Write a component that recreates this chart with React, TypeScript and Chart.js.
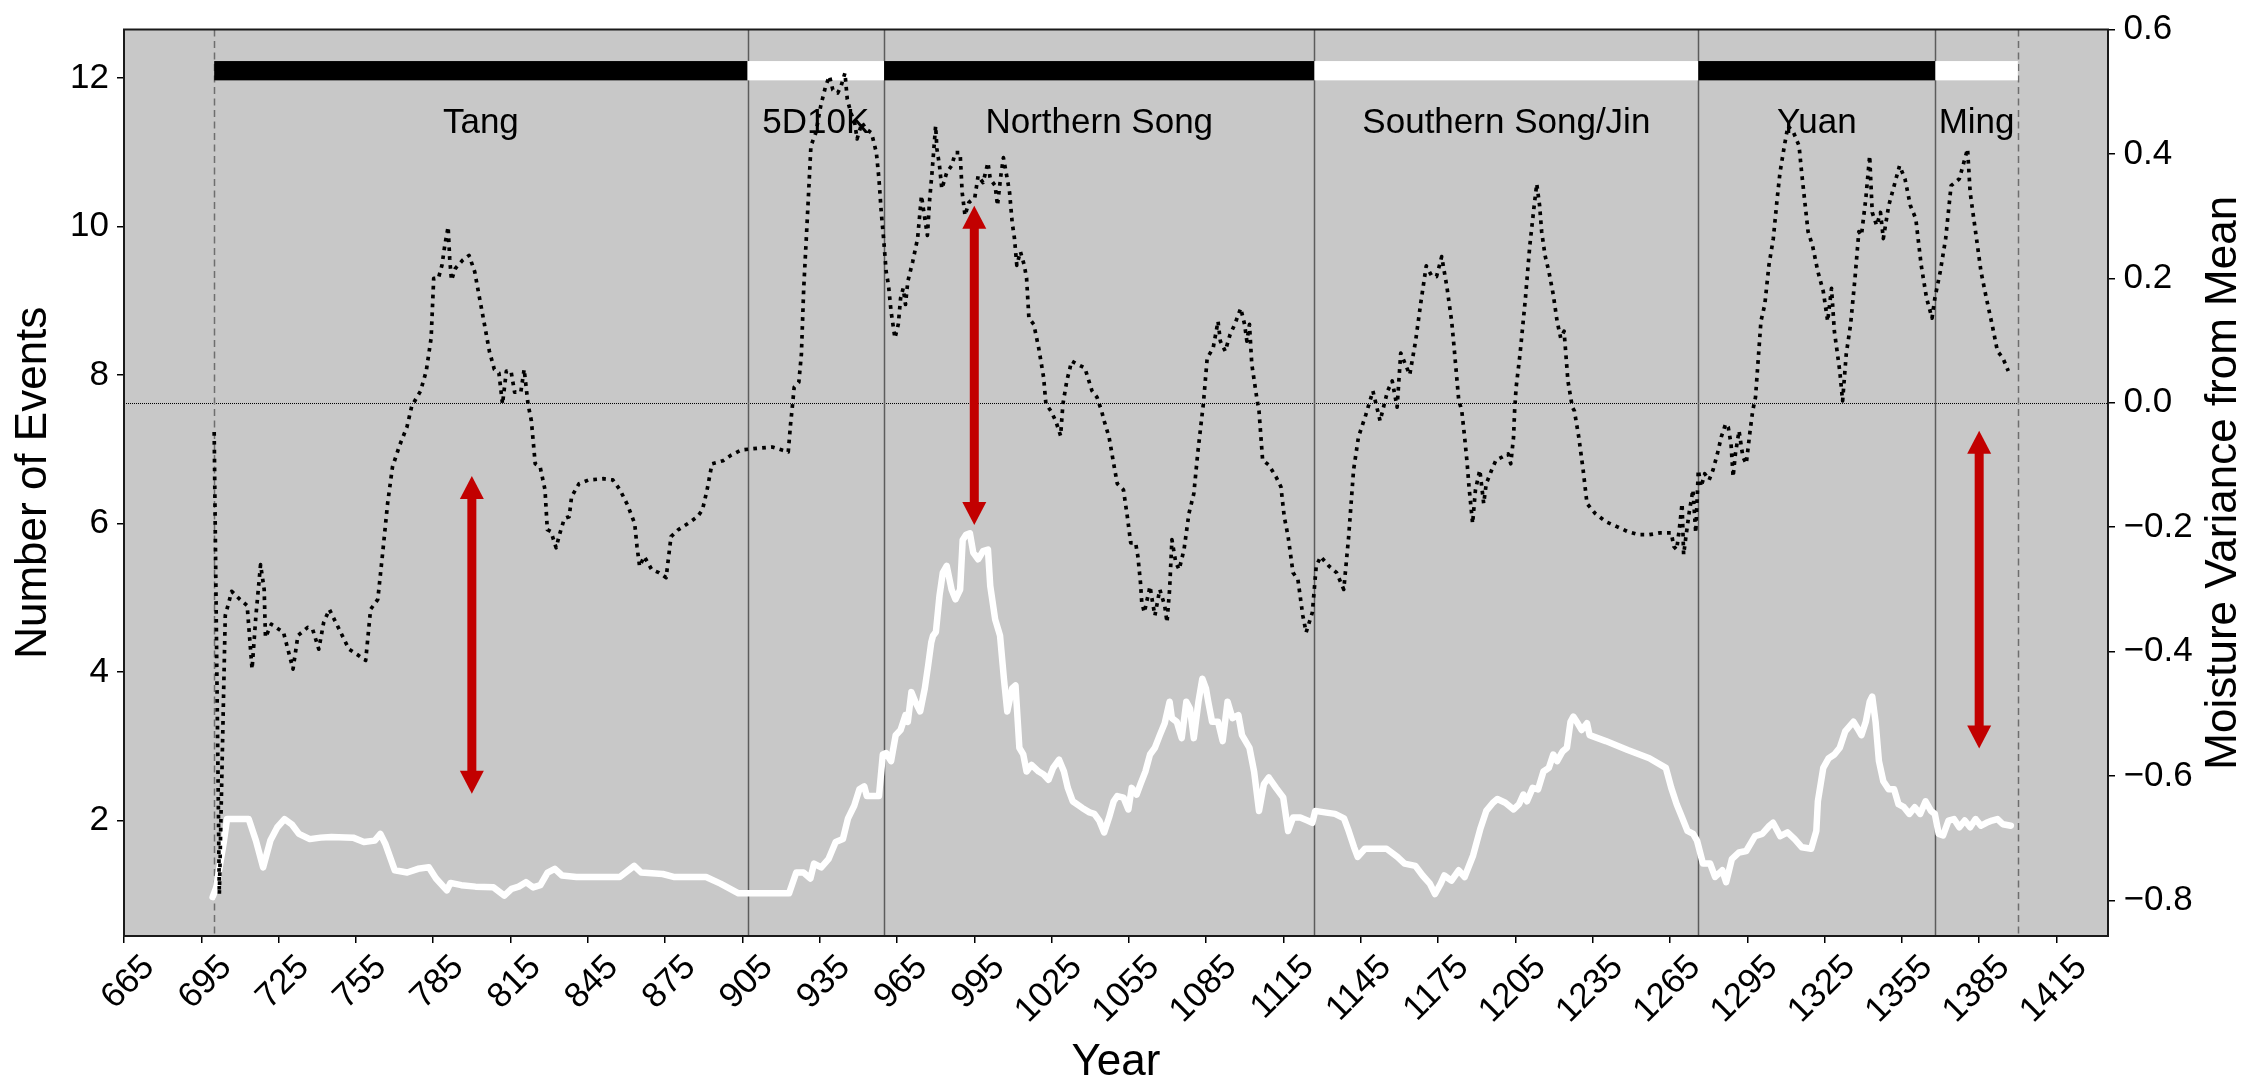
import React, { useEffect, useRef } from 'react';
import { Chart, registerables } from 'chart.js';

Chart.register(...registerables);

// ---------------- data ----------------
const MOIST_YEARS = [
  700, 702, 704.3, 706.8, 710, 712.8, 714.7, 716.2, 718, 719.4, 719.9, 722.2, 726.9, 730.6, 732.5, 736.3, 738.2, 740.6,
  742.5, 744.7, 748.5, 752.3, 756, 758.8, 760.7, 763.5, 765.4, 767.3, 769.2, 772, 774.8, 776.7, 780.1, 782.3, 784.2,
  785.2, 787, 788.4, 789.5, 790.8, 791.4, 792.1, 793.6, 796.4, 798.9, 801.1, 803, 804.9, 806.8, 808.7, 810.5, 811.9,
  813.4, 815.2, 816.6, 819, 820.3, 821.8, 823.1, 824.6, 826.5, 828.4, 829.3, 830.7, 832.7, 834, 835.9, 837.8, 838.7,
  841.6, 845.3, 851, 854.7, 857.5, 860.4, 863.2, 864.1, 865.1, 866.9, 869.8, 872.6, 875.4, 877.3, 880.1, 883.9, 887.6,
  889.5, 891.3, 893.2, 897.5, 900.7, 904.5, 908.7, 916.6, 920.4, 922.8, 923.7, 924.3, 925.1, 926.9, 927.9, 928.8,
  929.8, 930.7, 931.6, 933.5, 935.4, 937.3, 938.8, 940.1, 942, 943.3, 944.8, 945.7, 947.1, 948.6, 949.5, 951.4, 953.3,
  955.1, 957, 958, 958.9, 959.8, 960.8, 961.7, 962.7, 964.2, 965.5, 966.4, 967.4, 968.3, 969.2, 971.1, 973, 974.5,
  975.8, 976.8, 977.7, 978.6, 980, 980.5, 981.5, 982.4, 984.3, 986.2, 987.7, 989.5, 990.3, 991.4, 992.9, 995.2, 996.5,
  998.4, 1000.3, 1001.2, 1003.1, 1004, 1005.3, 1006.3, 1007.8, 1008.7, 1009.7, 1010.6, 1011.5, 1012.9, 1014.4, 1015.3,
  1016.2, 1018.1, 1020, 1021.9, 1022.8, 1024.7, 1026.6, 1028.5, 1029.4, 1030.9, 1032.8, 1035, 1037.9, 1040.7, 1042.6,
  1044.4, 1045.4, 1047.3, 1049.1, 1050.5, 1052.9, 1054.4, 1055.7, 1057.6, 1058.5, 1059.5, 1060, 1061, 1063.2, 1064.2,
  1065.1, 1067, 1068.9, 1069.8, 1070.8, 1071.7, 1073.2, 1074.5, 1076.4, 1078.3, 1080.2, 1081.7, 1083, 1083.9, 1085.4,
  1087.7, 1089.6, 1090.5, 1092.4, 1094.3, 1096.1, 1098.4, 1099.9, 1100.8, 1101.8, 1102.7, 1104.6, 1105.5, 1106.9,
  1109.3, 1112.1, 1114, 1115.3, 1116.8, 1118.7, 1120.6, 1122.5, 1123.8, 1126.2, 1127.7, 1129.4, 1132.8, 1135.6, 1138.4,
  1140.3, 1142.2, 1144.1, 1146.9, 1149.7, 1152.5, 1155.4, 1157.2, 1159.1, 1160.5, 1164, 1166.3, 1168.2, 1170.4, 1172.4,
  1174.4, 1176.4, 1178.4, 1180.3, 1181.2, 1183, 1184.2, 1185.3, 1186.3, 1187, 1188.4, 1189.5, 1191.2, 1192.7, 1193.7,
  1195.8, 1197.5, 1200, 1202.2, 1203.2, 1204.3, 1204.7, 1205.3, 1206.8, 1208.9, 1210.6, 1212.3, 1213.3, 1214.4, 1215.2,
  1216.5, 1218, 1219.7, 1221.2, 1222.6, 1223.9, 1225.4, 1227.1, 1227.9, 1229.6, 1231.3, 1232.8, 1236, 1240.1, 1244.4,
  1248.6, 1252.8, 1257, 1261.2, 1265.5, 1266.5, 1267.6, 1268.6, 1269.7, 1270.3, 1271.2, 1272.4, 1273.9, 1275, 1276,
  1277.1, 1278.5, 1280.2, 1281.7, 1283.4, 1284.9, 1286.6, 1287.6, 1288.7, 1289.5, 1290.4, 1291.8, 1293.3, 1294.6,
  1296.1, 1297.1, 1298.2, 1300.3, 1301.8, 1303.4, 1305.1, 1306.6, 1307.7, 1309.4, 1310.8, 1313, 1315.1, 1316.1, 1317.2,
  1318.6, 1320.3, 1322.4, 1324.5, 1326.2, 1327.7, 1328.8, 1330.9, 1332, 1333.4, 1335.1, 1336.8, 1338.3, 1339.3, 1341,
  1342.5, 1343.5, 1345.2, 1346.7, 1347.8, 1349.9, 1352, 1354.1, 1356.2, 1358.3, 1360.4, 1362.5, 1364.6, 1366.7, 1367.8,
  1369.9, 1372, 1374.1, 1377.3, 1380.5, 1381.5, 1383.6, 1385.7, 1387.8, 1390, 1392.1, 1394.2, 1396.3,
];
const MOIST_VALUES = [
  -0.047, -0.79, -0.342, -0.303, -0.316, -0.326, -0.428, -0.342, -0.26, -0.3, -0.377, -0.356, -0.369, -0.428, -0.374,
  -0.361, -0.364, -0.396, -0.353, -0.332, -0.364, -0.396, -0.406, -0.414, -0.332, -0.316, -0.241, -0.162, -0.103,
  -0.068, -0.039, -0.005, 0.019, 0.051, 0.104, 0.2, 0.2, 0.221, 0.253, 0.283, 0.232, 0.197, 0.216, 0.229, 0.237, 0.211,
  0.168, 0.126, 0.083, 0.054, 0.048, -0.002, 0.051, 0.051, 0.017, 0.017, 0.054, -0.002, -0.029, -0.098, -0.103, -0.14,
  -0.204, -0.207, -0.233, -0.212, -0.186, -0.183, -0.151, -0.13, -0.124, -0.122, -0.124, -0.14, -0.164, -0.194, -0.231,
  -0.263, -0.247, -0.268, -0.273, -0.281, -0.215, -0.204, -0.194, -0.183, -0.172, -0.14, -0.098, -0.093, -0.084, -0.076,
  -0.074, -0.071, -0.076, -0.079, -0.034, -0.01, 0.025, 0.033, 0.078, 0.184, 0.264, 0.338, 0.413, 0.434, 0.477, 0.509,
  0.525, 0.503, 0.498, 0.509, 0.53, 0.488, 0.466, 0.45, 0.424, 0.45, 0.439, 0.434, 0.402, 0.36, 0.306, 0.264, 0.211,
  0.189, 0.147, 0.104, 0.126, 0.168, 0.184, 0.158, 0.195, 0.227, 0.264, 0.333, 0.296, 0.269, 0.328, 0.37, 0.445, 0.408,
  0.381, 0.344, 0.37, 0.381, 0.402, 0.402, 0.338, 0.301, 0.322, 0.33, 0.365, 0.354, 0.386, 0.36, 0.349, 0.317, 0.365,
  0.394, 0.36, 0.338, 0.29, 0.264, 0.221, 0.243, 0.221, 0.2, 0.136, 0.126, 0.088, 0.041, -0.002, -0.013, -0.029, -0.053,
  -0.002, 0.035, 0.067, 0.062, 0.056, 0.019, 0.009, -0.013, -0.029, -0.055, -0.098, -0.13, -0.14, -0.183, -0.225,
  -0.225, -0.247, -0.289, -0.321, -0.337, -0.295, -0.321, -0.342, -0.3, -0.326, -0.353, -0.3, -0.22, -0.257, -0.268,
  -0.236, -0.178, -0.146, -0.082, -0.034, -0.002, 0.072, 0.088, 0.131, 0.099, 0.083, 0.11, 0.126, 0.152, 0.126, 0.099,
  0.126, 0.062, 0.009, -0.013, -0.092, -0.1, -0.119, -0.135, -0.183, -0.215, -0.273, -0.284, -0.342, -0.369, -0.337,
  -0.263, -0.247, -0.263, -0.273, -0.3, -0.215, -0.108, -0.055, -0.02, 0.019, -0.029, 0.019, 0.035, -0.007, 0.08, 0.045,
  0.1, 0.158, 0.22, 0.205, 0.203, 0.235, 0.187, 0.13, 0.09, 0.005, -0.013, -0.055, -0.098, -0.135, -0.194, -0.14,
  -0.108, -0.162, -0.13, -0.108, -0.092, -0.087, -0.082, -0.098, -0.055, -0.013, 0.025, 0.078, 0.168, 0.253, 0.317,
  0.352, 0.317, 0.275, 0.237, 0.211, 0.174, 0.131, 0.104, 0.115, 0.035, -0.007, -0.013, -0.055, -0.108, -0.162, -0.178,
  -0.191, -0.199, -0.207, -0.212, -0.212, -0.209, -0.209, -0.231, -0.236, -0.204, -0.162, -0.244, -0.215, -0.178,
  -0.14, -0.209, -0.108, -0.135, -0.114, -0.124, -0.108, -0.082, -0.055, -0.034, -0.039, -0.066, -0.119, -0.082, -0.045,
  -0.087, -0.098, -0.045, -0.013, 0.009, 0.131, 0.158, 0.221, 0.264, 0.328, 0.37, 0.413, 0.445, 0.434, 0.413, 0.37,
  0.328, 0.275, 0.253, 0.211, 0.179, 0.131, 0.184, 0.115, 0.051, 0.003, 0.078, 0.126, 0.2, 0.275, 0.269, 0.328, 0.397,
  0.306, 0.285, 0.306, 0.264, 0.317, 0.349, 0.381, 0.36, 0.317, 0.296, 0.221, 0.168, 0.136, 0.168, 0.211, 0.264, 0.349,
  0.36, 0.408, 0.338, 0.275, 0.211, 0.168, 0.126, 0.083, 0.072, 0.051,
];

const EVENT_YEARS = [
  699.4, 700.8, 703.6, 705, 713.4, 716.2, 719, 721.8, 724.5, 727.3, 730.1, 732.9, 737.1, 741.3, 745.5, 753.9, 758.1,
  762.3, 764.5, 766.5, 770.1, 774.9, 779.1, 783.3, 786.1, 790.3, 791.7, 795.9, 801.4, 808.4, 812.6, 815.4, 818.2, 821,
  823.8, 826.6, 829.4, 832.2, 835, 840.6, 857.4, 863, 865.7, 874.1, 878.3, 890.9, 896.5, 903.5, 923.1, 925.9, 928.7,
  931.4, 932.8, 935.6, 938.4, 941.2, 944, 946, 948.4, 950.4, 952.3, 953.3, 958, 959.5, 960.8, 962.7, 964.5, 966.4,
  968.3, 969.2, 970.6, 972.1, 974, 975.8, 977.1, 978.3, 979, 980.1, 981.5, 982.8, 984.3, 986.2, 987.7, 989.5, 990.5,
  991.8, 993.3, 994.6, 996.5, 998.4, 1000.3, 1001.2, 1003.1, 1005, 1006.5, 1007.8, 1009.7, 1011, 1012.5, 1014, 1015.3,
  1017.2, 1020, 1021.9, 1023.8, 1025.6, 1027.9, 1029.8, 1031.3, 1033.2, 1036.9, 1039.7, 1041.6, 1043.5, 1045.4, 1047.3,
  1049.1, 1050.5, 1052.9, 1054.8, 1056.1, 1058, 1059.5, 1061.4, 1063.2, 1065.1, 1067, 1068.9, 1070.8, 1071.7, 1073.6,
  1075.5, 1077.3, 1078.7, 1080.2, 1082, 1083.5, 1084.9, 1085.8, 1087.3, 1089.6, 1091.4, 1093.3, 1095.2, 1097.5, 1098.9,
  1101.8, 1103.6, 1105.5, 1107.4, 1109.3, 1112.1, 1114.9, 1116.8, 1118.7, 1121.5, 1124.3, 1126.2, 1127.3, 1131, 1135,
  1138.5, 1140.3, 1142.4, 1143.8, 1146.6, 1155, 1159.2, 1162, 1166.2, 1169, 1171.8, 1173.8, 1176, 1177.4, 1180.2, 1183,
  1185.3, 1188.6, 1191.5, 1193.7, 1196.3, 1198, 1201.1, 1204.3, 1206.4, 1208.1, 1209.5, 1211.7, 1213.8, 1215.9, 1218,
  1219.7, 1221.2, 1223.3, 1225, 1226.4, 1227.5, 1229.2, 1230.7, 1232.8, 1233.8, 1240.1, 1248.6, 1257, 1263.4, 1265.5,
  1267.6, 1269.7, 1271.8, 1274, 1275.5, 1277.8, 1280.6, 1282.5, 1285.3, 1286.8, 1289, 1291.8, 1294.6, 1298, 1300.8,
  1303.6, 1305, 1307.8, 1310.6, 1313.4, 1316.2, 1319.8, 1321.8, 1322.4, 1324.5, 1326.6, 1328.8, 1330.9, 1333, 1334.7,
  1336.2, 1337.8, 1339.3, 1341, 1342.5, 1343.5, 1344.8, 1346.1, 1347.8, 1349.9, 1352, 1353.7, 1355.8, 1357.9, 1360,
  1362.1, 1364.2, 1366.3, 1367.8, 1369.3, 1371, 1373.1, 1375.2, 1377.3, 1379.4, 1381.5, 1383.6, 1385.7, 1387.8, 1390,
  1392.1, 1394.2, 1397.3,
];
const EVENT_VALUES = [
  0.97, 1.1, 1.68, 2.02, 2.02, 1.73, 1.37, 1.73, 1.91, 2.02, 1.95, 1.82, 1.75, 1.77, 1.78, 1.77, 1.71, 1.73, 1.82, 1.68,
  1.33, 1.3, 1.35, 1.37, 1.22, 1.06, 1.16, 1.13, 1.11, 1.1, 0.99, 1.08, 1.11, 1.17, 1.1, 1.13, 1.3, 1.35, 1.26, 1.24,
  1.24, 1.39, 1.3, 1.28, 1.24, 1.24, 1.15, 1.02, 1.02, 1.3, 1.3, 1.22, 1.42, 1.37, 1.48, 1.71, 1.75, 2.03, 2.2, 2.42,
  2.46, 2.33, 2.33, 2.89, 2.91, 2.8, 3.15, 3.22, 3.42, 3.33, 3.73, 3.6, 3.47, 3.78, 4.09, 4.4, 4.49, 4.54, 5.03, 5.34,
  5.43, 5.11, 4.98, 5.11, 5.78, 5.85, 5.87, 5.61, 5.52, 5.63, 5.65, 5.16, 4.71, 4.49, 3.91, 3.47, 3.78, 3.82, 2.98, 2.89,
  2.66, 2.75, 2.66, 2.62, 2.55, 2.71, 2.82, 2.66, 2.44, 2.26, 2.17, 2.11, 2.09, 2.0, 1.84, 2.04, 2.26, 2.33, 2.31, 2.15,
  2.44, 2.35, 2.49, 2.66, 2.89, 2.98, 3.15, 3.31, 3.6, 3.38, 3.33, 3.11, 3.6, 3.51, 3.11, 3.6, 3.91, 3.78, 3.6, 3.33,
  3.33, 3.07, 3.6, 3.38, 3.42, 3.15, 2.98, 2.66, 2.13, 2.49, 2.58, 2.44, 2.31, 1.86, 2.04, 2.04, 2.0, 1.97, 2.13, 2.11,
  2.09, 2.03, 1.86, 1.64, 1.51, 1.62, 1.62, 1.51, 1.42, 1.39, 1.26, 1.15, 1.01, 1.15, 1.26, 1.19, 1.33, 1.24, 1.53, 1.9,
  2.13, 2.24, 2.29, 2.24, 2.15, 2.22, 2.35, 2.26, 2.44, 2.42, 2.66, 2.71, 2.89, 2.8, 2.93, 2.98, 3.33, 3.4, 3.31, 3.22,
  3.31, 3.15, 3.07, 2.95, 2.84, 2.71, 2.44, 2.22, 2.04, 1.86, 1.82, 1.73, 1.42, 1.42, 1.24, 1.33, 1.17, 1.48, 1.57, 1.59,
  1.79, 1.82, 1.93, 1.97, 1.79, 1.84, 1.75, 1.64, 1.62, 1.86, 2.26, 2.71, 2.84, 2.89, 2.98, 3.2, 3.27, 3.33, 3.24, 3.15,
  3.33, 3.6, 3.67, 3.33, 2.8, 2.53, 2.42, 2.42, 2.22, 2.18, 2.09, 2.18, 2.09, 2.26, 2.13, 2.09, 1.82, 1.8, 2.0, 2.02,
  1.91, 2.0, 1.91, 2.02, 1.93, 1.97, 2.0, 2.02, 1.95, 1.93,
];

const X_TICKS = [665, 695, 725, 755, 785, 815, 845, 875, 905, 935, 965, 995, 1025, 1055, 1085, 1115, 1145, 1175, 1205,
  1235, 1265, 1295, 1325, 1355, 1385, 1415];
const LEFT_TICKS = [2, 4, 6, 8, 10, 12];
const RIGHT_TICKS = [-0.8, -0.6, -0.4, -0.2, 0.0, 0.2, 0.4, 0.6];

const PERIOD_NAMES = ['Tang', '5D10K', 'Northern Song', 'Southern Song/Jin', 'Yuan', 'Ming'];
const PERIOD_START = [700, 907, 960, 1127, 1276, 1368];
const PERIOD_END = [907, 960, 1127, 1276, 1368, 1400];

const ARROW_YEARS = [800, 995, 1385];
const ARROW_LOW = [2.36, 5.98, 2.97];
const ARROW_HIGH = [6.64, 10.28, 7.25];

// ---------------- styling ----------------
const FONT = '"Liberation Sans", Arial, Helvetica, sans-serif';
const TICK_SIZE = 35;
const TITLE_SIZE = 44;
const BG = '#c8c8c8';
const RED = '#c20000';

const decorPlugin = {
  id: 'decor',
  beforeDraw(chart: any) {
    const { ctx, chartArea: a } = chart;
    ctx.save();
    ctx.fillStyle = '#ffffff';
    ctx.fillRect(0, 0, chart.width, chart.height);
    ctx.fillStyle = BG;
    ctx.fillRect(a.left, a.top, a.right - a.left, a.bottom - a.top);
    ctx.restore();
  },
  beforeDatasetsDraw(chart: any) {
    const { ctx, chartArea: a } = chart;
    const { x, y, y1 } = chart.scales;
    ctx.save();
    // zero line of the moisture axis
    const y0 = Math.round(y1.getPixelForValue(0)) + 0.5;
    ctx.strokeStyle = '#000';
    ctx.lineWidth = 1;
    ctx.setLineDash([1, 1]);
    ctx.beginPath();
    ctx.moveTo(a.left, y0);
    ctx.lineTo(a.right, y0);
    ctx.stroke();
    // period boundaries
    const bounds = [...PERIOD_START, PERIOD_END[PERIOD_END.length - 1]];
    bounds.forEach((yr, i) => {
      const px = Math.round(x.getPixelForValue(yr)) + 0.5;
      const dashed = i === 0 || i === bounds.length - 1;
      ctx.setLineDash(dashed ? [7, 4.5] : []);
      ctx.strokeStyle = dashed ? '#6e6e6e' : '#5c5c5c';
      ctx.lineWidth = 1.5;
      ctx.beginPath();
      ctx.moveTo(px, a.top);
      ctx.lineTo(px, a.bottom);
      ctx.stroke();
    });
    ctx.setLineDash([]);
    // dynasty bars
    const bt = y.getPixelForValue(12.23);
    const bb = y.getPixelForValue(11.97);
    PERIOD_START.forEach((s, i) => {
      const x0 = x.getPixelForValue(s);
      const x1 = x.getPixelForValue(PERIOD_END[i]);
      ctx.fillStyle = i % 2 === 0 ? '#000000' : '#ffffff';
      ctx.fillRect(x0, bt, x1 - x0, bb - bt);
    });
    // dynasty names
    ctx.fillStyle = '#000';
    ctx.font = `${TICK_SIZE}px ${FONT}`;
    ctx.textAlign = 'center';
    ctx.textBaseline = 'alphabetic';
    const ly = y.getPixelForValue(11.265);
    PERIOD_NAMES.forEach((name, i) => {
      const cx = x.getPixelForValue((PERIOD_START[i] + PERIOD_END[i]) / 2);
      ctx.fillText(name, cx, ly);
    });
    ctx.restore();
  },
  afterDatasetsDraw(chart: any) {
    const { ctx, chartArea: a } = chart;
    const { x, y } = chart.scales;
    ctx.save();
    // red double-headed arrows
    const headLen = 23;
    const headHalf = 12;
    const shaft = 9;
    ARROW_YEARS.forEach((yr, i) => {
      const px = x.getPixelForValue(yr);
      const top = y.getPixelForValue(ARROW_HIGH[i]);
      const bot = y.getPixelForValue(ARROW_LOW[i]);
      ctx.fillStyle = RED;
      ctx.fillRect(px - shaft / 2, top + headLen - 1, shaft, bot - top - 2 * headLen + 2);
      ctx.beginPath();
      ctx.moveTo(px, top);
      ctx.lineTo(px + headHalf, top + headLen);
      ctx.lineTo(px - headHalf, top + headLen);
      ctx.closePath();
      ctx.fill();
      ctx.beginPath();
      ctx.moveTo(px, bot);
      ctx.lineTo(px + headHalf, bot - headLen);
      ctx.lineTo(px - headHalf, bot - headLen);
      ctx.closePath();
      ctx.fill();
    });
    // frame
    ctx.strokeStyle = '#1a1a1a';
    ctx.lineWidth = 2;
    ctx.strokeRect(a.left, a.top, a.right - a.left, a.bottom - a.top);
    ctx.restore();
  },
  afterDraw(chart: any) {
    const { ctx, chartArea: a } = chart;
    const s = chart.scales.y1;
    ctx.save();
    ctx.translate(s.right - 29, (a.top + a.bottom) / 2);
    ctx.rotate(-Math.PI / 2);
    ctx.fillStyle = '#000';
    ctx.font = `${TITLE_SIZE}px ${FONT}`;
    ctx.textAlign = 'center';
    ctx.textBaseline = 'middle';
    ctx.fillText('Moisture Variance from Mean', 0, 0);
    ctx.restore();
  },
};

const fmtRight = (v: number) => {
  const r = Math.round(v * 10) / 10;
  const t = Math.abs(r).toFixed(1);
  return r < 0 ? '\u2212' + t : t;
};

export default function App() {
  const ref = useRef<HTMLCanvasElement | null>(null);
  useEffect(() => {
    if (!ref.current) return;
    const tickFont = { family: FONT, size: TICK_SIZE };
    const grid = { drawOnChartArea: false, drawTicks: true, tickLength: 7, color: '#000', lineWidth: 1.5 };
    const chart = new Chart(ref.current, {
      type: 'line',
      data: {
        datasets: [
          {
            label: 'Moisture variance',
            data: MOIST_YEARS.map((yr, i) => ({ x: yr, y: MOIST_VALUES[i] })),
            yAxisID: 'y1',
            borderColor: '#000',
            borderWidth: 3.7,
            borderDash: [3.7, 5.2],
            borderCapStyle: 'butt',
            borderJoinStyle: 'round',
            pointRadius: 0,
            tension: 0,
            fill: false,
          },
          {
            label: 'Number of events',
            data: EVENT_YEARS.map((yr, i) => ({ x: yr, y: EVENT_VALUES[i] })),
            yAxisID: 'y',
            borderColor: '#ffffff',
            borderWidth: 6.5,
            borderJoinStyle: 'round',
            borderCapStyle: 'round',
            pointRadius: 0,
            tension: 0,
            fill: false,
          },
        ],
      },
      options: {
        animation: false,
        responsive: false,
        devicePixelRatio: 1,
        layout: { padding: { top: 23, left: 0, right: 0, bottom: 0 } },
        plugins: { legend: { display: false }, tooltip: { enabled: false } },
        scales: {
          x: {
            type: 'linear',
            position: 'bottom',
            min: 665,
            max: 1435,
            afterBuildTicks: (s: any) => { s.ticks = X_TICKS.map((v) => ({ value: v })); },
            afterFit: (s: any) => { s.height = 153; },
            grid,
            border: { display: false },
            ticks: {
              autoSkip: false,
              minRotation: 45,
              maxRotation: 45,
              padding: 4,
              labelOffset: 25,
              color: '#000',
              font: tickFont,
              callback: (v: any) => String(v),
            },
            title: {
              display: true,
              text: 'Year',
              color: '#000',
              font: { family: FONT, size: TITLE_SIZE },
              padding: { top: 0, bottom: 0 },
            },
          },
          y: {
            type: 'linear',
            position: 'left',
            min: 0.445,
            max: 12.655,
            afterBuildTicks: (s: any) => { s.ticks = LEFT_TICKS.map((v) => ({ value: v })); },
            afterFit: (s: any) => { s.width = 124; },
            grid,
            border: { display: false },
            ticks: { padding: 8, color: '#000', font: tickFont, callback: (v: any) => String(v) },
            title: {
              display: true,
              text: 'Number of Events',
              color: '#000',
              font: { family: FONT, size: TITLE_SIZE },
              padding: { top: 7.6, bottom: 0 },
            },
          },
          y1: {
            type: 'linear',
            position: 'right',
            min: -0.857,
            max: 0.6,
            afterBuildTicks: (s: any) => { s.ticks = RIGHT_TICKS.map((v) => ({ value: v })); },
            afterFit: (s: any) => { s.width = 145; },
            grid,
            border: { display: false },
            ticks: { padding: 8.5, color: '#000', font: tickFont, callback: (v: any) => fmtRight(Number(v)) },
            title: { display: false },
          },
        },
      },
      plugins: [decorPlugin],
    } as any);
    return () => chart.destroy();
  }, []);
  return (
    <div style={{ position: 'absolute', left: 0, top: 0, width: 2253, height: 1089, background: '#fff' }}>
      <canvas ref={ref} width={2253} height={1089} style={{ width: 2253, height: 1089, display: 'block' }} />
    </div>
  );
}
